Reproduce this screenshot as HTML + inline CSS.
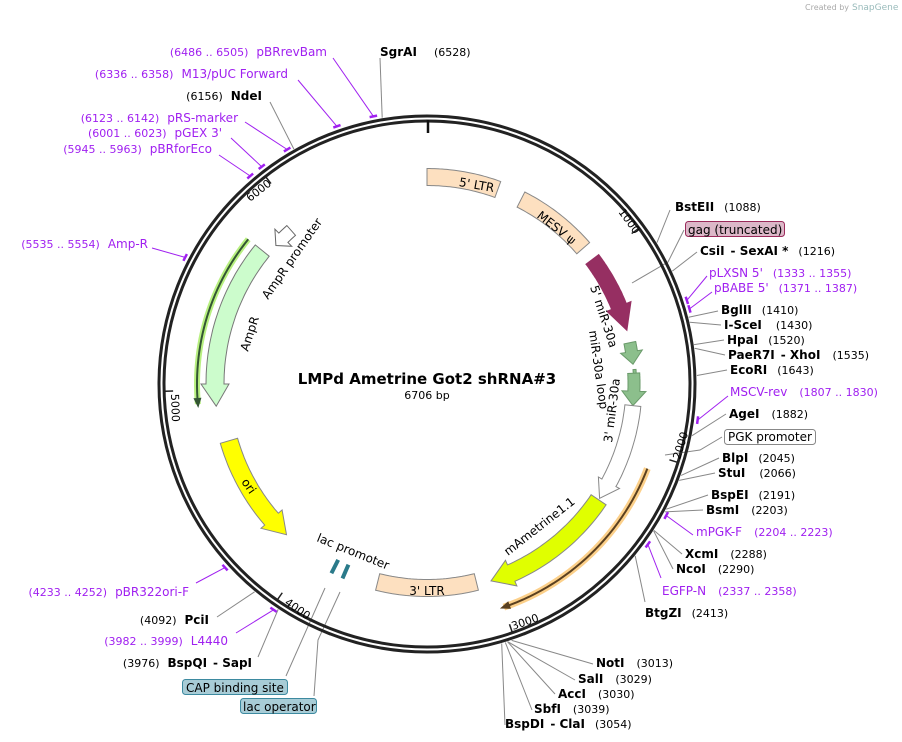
<!DOCTYPE html>
<html><head><meta charset="utf-8"><style>
html,body{margin:0;padding:0;background:#fff;width:902px;height:742px;overflow:hidden}
svg{display:block;font-family:"DejaVu Sans","Liberation Sans",sans-serif}
.b{font-weight:bold;font-size:12px;fill:#000}
.n{font-size:11px;fill:#000}
.p{font-size:12px;fill:#a020f0}
.pn{font-size:11px;fill:#a020f0}
.f{font-size:12px;fill:#000}
</style></head><body>
<svg id="s" width="902" height="742" viewBox="0 0 902 742">
<text x="805" y="10" font-size="8" fill="#aaa">Created by</text><text x="852" y="10" font-size="9" fill="#9bb">SnapGene</text>
<g id="leads" stroke="#888" stroke-width="1" fill="none"></g>
<g id="feat"></g>
<circle cx="427" cy="384" r="268" fill="none" stroke="#222" stroke-width="3"/>
<circle cx="427" cy="384" r="263" fill="none" stroke="#222" stroke-width="3"/>
<line x1="428" y1="120" x2="428" y2="133" stroke="#111" stroke-width="2.5"/>
<g id="ticks" stroke="#222" stroke-width="1.5"></g>
<g font-size="11" fill="#000">
<text transform="translate(618,212) rotate(54)">1000</text>
<text transform="translate(680,460) rotate(-73)">2000</text>
<text transform="translate(513,630) rotate(-19)">3000</text>
<text transform="translate(284,604) rotate(35)">4000</text>
<text transform="translate(171,394) rotate(88)">5000</text>
<text transform="translate(250,202) rotate(-38)">6000</text>
</g>
<text x="427" y="384" text-anchor="middle" font-weight="bold" font-size="15">LMPd Ametrine Got2 shRNA#3</text>
<text x="427" y="399" text-anchor="middle" font-size="11">6706 bp</text>
<g class="f">
<text transform="translate(476,189) rotate(10)" text-anchor="middle">5' LTR</text>
<text transform="translate(554,231) rotate(38)" text-anchor="middle">MESV ψ</text>
<text transform="translate(590,287) rotate(72)">5' miR-30a</text>
<text transform="translate(589,331) rotate(82)">miR-30a loop</text>
<text transform="translate(612,443) rotate(-83)">3' miR-30a</text>
<text transform="translate(268,300) rotate(-55)">AmpR promoter</text>
<text transform="translate(248,352) rotate(-72)">AmpR</text>
<text transform="translate(241,482) rotate(55)">ori</text>
<text transform="translate(316,541) rotate(22)">lac promoter</text>
<text x="427" y="595" text-anchor="middle">3' LTR</text>
<text transform="translate(508,556) rotate(-38)">mAmetrine1.1</text>
</g>
<text x="380" y="56" class="b">SgrAI</text><text x="434" y="56" class="n">(6528)</text>
<text x="327" y="56" text-anchor="end"><tspan class="pn">(6486 .. 6505)</tspan><tspan class="p" dx="8">pBRrevBam</tspan></text>
<text x="288" y="78" text-anchor="end"><tspan class="pn">(6336 .. 6358)</tspan><tspan class="p" dx="8">M13/pUC Forward</tspan></text>
<text x="262" y="100" text-anchor="end"><tspan class="n">(6156)</tspan><tspan class="b" dx="8">NdeI</tspan></text>
<text x="238" y="122" text-anchor="end"><tspan class="pn">(6123 .. 6142)</tspan><tspan class="p" dx="8">pRS-marker</tspan></text>
<text x="222" y="137" text-anchor="end"><tspan class="pn">(6001 .. 6023)</tspan><tspan class="p" dx="8">pGEX 3'</tspan></text>
<text x="212" y="153" text-anchor="end"><tspan class="pn">(5945 .. 5963)</tspan><tspan class="p" dx="8">pBRforEco</tspan></text>
<text x="148" y="248" text-anchor="end"><tspan class="pn">(5535 .. 5554)</tspan><tspan class="p" dx="8">Amp-R</tspan></text>
<text x="189" y="596" text-anchor="end"><tspan class="pn">(4233 .. 4252)</tspan><tspan class="p" dx="8">pBR322ori-F</tspan></text>
<text x="209" y="624" text-anchor="end"><tspan class="n">(4092)</tspan><tspan class="b" dx="8">PciI</tspan></text>
<text x="228" y="645" text-anchor="end"><tspan class="pn">(3982 .. 3999)</tspan><tspan class="p" dx="8">L4440</tspan></text>
<text x="252" y="667" text-anchor="end"><tspan class="n">(3976)</tspan><tspan class="b" dx="8">BspQI</tspan><tspan class="b" dx="6">- SapI</tspan></text>
<rect x="182.5" y="679.5" width="105" height="15" rx="3" fill="#a8ccd6" stroke="#3d8aa0"/>
<text x="186" y="692" font-size="12">CAP binding site</text>
<rect x="240.5" y="698.5" width="76" height="15" rx="3" fill="#a8ccd6" stroke="#3d8aa0"/>
<text x="243" y="711" font-size="12">lac operator</text>
<text x="675" y="211"><tspan class="b">BstEII</tspan><tspan class="n" dx="10">(1088)</tspan></text>
<rect x="685.5" y="221.5" width="99" height="15" rx="3" fill="#dcb8c8" stroke="#9a2a5a"/>
<text x="688" y="234" font-size="12">gag (truncated)</text>
<text x="700" y="255"><tspan class="b">CsiI</tspan><tspan class="b" dx="6">- SexAI *</tspan><tspan class="n" dx="10">(1216)</tspan></text>
<text x="709" y="277"><tspan class="p">pLXSN 5'</tspan><tspan class="pn" dx="10">(1333 .. 1355)</tspan></text>
<text x="714" y="292"><tspan class="p">pBABE 5'</tspan><tspan class="pn" dx="10">(1371 .. 1387)</tspan></text>
<text x="721" y="314"><tspan class="b">BglII</tspan><tspan class="n" dx="10">(1410)</tspan></text>
<text x="724" y="329"><tspan class="b">I-SceI</tspan><tspan class="n" dx="14">(1430)</tspan></text>
<text x="727" y="344"><tspan class="b">HpaI</tspan><tspan class="n" dx="10">(1520)</tspan></text>
<text x="728" y="359"><tspan class="b">PaeR7I</tspan><tspan class="b" dx="6">- XhoI</tspan><tspan class="n" dx="12">(1535)</tspan></text>
<text x="730" y="374"><tspan class="b">EcoRI</tspan><tspan class="n" dx="10">(1643)</tspan></text>
<text x="730" y="396"><tspan class="p">MSCV-rev</tspan><tspan class="pn" dx="12">(1807 .. 1830)</tspan></text>
<text x="729" y="418"><tspan class="b">AgeI</tspan><tspan class="n" dx="12">(1882)</tspan></text>
<rect x="724.5" y="429.5" width="91" height="15" rx="3" fill="#fff" stroke="#888"/>
<text x="728" y="441" font-size="12">PGK promoter</text>
<text x="722" y="462"><tspan class="b">BlpI</tspan><tspan class="n" dx="10">(2045)</tspan></text>
<text x="718" y="477"><tspan class="b">StuI</tspan><tspan class="n" dx="14">(2066)</tspan></text>
<text x="711" y="499"><tspan class="b">BspEI</tspan><tspan class="n" dx="10">(2191)</tspan></text>
<text x="706" y="514"><tspan class="b">BsmI</tspan><tspan class="n" dx="12">(2203)</tspan></text>
<text x="696" y="536"><tspan class="p">mPGK-F</tspan><tspan class="pn" dx="12">(2204 .. 2223)</tspan></text>
<text x="685" y="558"><tspan class="b">XcmI</tspan><tspan class="n" dx="12">(2288)</tspan></text>
<text x="676" y="573"><tspan class="b">NcoI</tspan><tspan class="n" dx="12">(2290)</tspan></text>
<text x="662" y="595"><tspan class="p">EGFP-N</tspan><tspan class="pn" dx="12">(2337 .. 2358)</tspan></text>
<text x="645" y="617"><tspan class="b">BtgZI</tspan><tspan class="n" dx="10">(2413)</tspan></text>
<text x="596" y="667"><tspan class="b">NotI</tspan><tspan class="n" dx="12">(3013)</tspan></text>
<text x="578" y="683"><tspan class="b">SalI</tspan><tspan class="n" dx="12">(3029)</tspan></text>
<text x="558" y="698"><tspan class="b">AccI</tspan><tspan class="n" dx="12">(3030)</tspan></text>
<text x="534" y="713"><tspan class="b">SbfI</tspan><tspan class="n" dx="12">(3039)</tspan></text>
<text x="505" y="728"><tspan class="b">BspDI</tspan><tspan class="b" dx="6">- ClaI</tspan><tspan class="n" dx="10">(3054)</tspan></text>
</svg>
<script>
var CX=427,CY=384,N=6706,NS="http://www.w3.org/2000/svg";
function P(a,r){var t=a*Math.PI/180;return [CX+r*Math.sin(t),CY-r*Math.cos(t)];}
function D(bp){return bp/N*360;}
function el(g,tag,at){var e=document.createElementNS(NS,tag);for(var k in at)e.setAttribute(k,at[k]);document.getElementById(g).appendChild(e);return e;}
function arcpts(a1,a2,r,n){var o=[];for(var i=0;i<=n;i++){o.push(P(a1+(a2-a1)*i/n,r));}return o;}
function band(a1,a2,r,w,head,hw,fill,stroke){
 var dir=a2>a1?1:-1, ab=head? a2-dir*head : a2;
 var out=arcpts(a1,ab,r+w/2,30), inn=arcpts(ab,a1,r-w/2,30), pts=out.slice();
 if(head){pts.push(P(ab,r+hw/2));pts.push(P(a2,r));pts.push(P(ab,r-hw/2));}
 pts=pts.concat(inn);
 el("feat","polygon",{points:pts.map(function(p){return p[0].toFixed(1)+","+p[1].toFixed(1)}).join(" "),fill:fill,stroke:stroke||"#777","stroke-width":1});
}
function line(g,pts,c,w){el(g,"polyline",{points:pts.map(function(p){return p[0]+","+p[1]}).join(" "),stroke:c||"#888","stroke-width":w||1,fill:"none"});}
band(0,20,207,17,0,0,"#fde0c0","#888");
band(27,49,207,17,0,0,"#fde0c0","#888");
band(53,75,207,16,7,26,"#962f62","#962f62");
band(78.5,84.5,207,12,3.5,22,"#8cbf8c","#6a9a6a");
band(86,90,208,3,0,0,"#8cbf8c","#6a9a6a");
band(87,96,207,12,4,24,"#8cbf8c","#6a9a6a");
band(96,123.5,207,16,5,24,"#fff","#888");
band(124,162,207,18,6,28,"#e0ff00","#888");
band(166,194,204,17,0,0,"#fde0c0","#888");
band(254,223,206,18,6,28,"#ffff00","#888");
band(309,264,212,18,6,28,"#ccfccc","#777");
band(318.5,312.5,205,13,3,24,"#fff","#666");
(function(){var a=arcpts(309,265,230,30);el("feat","polyline",{points:a.map(function(p){return p.join(",")}).join(" "),stroke:"#b8f080","stroke-width":6,fill:"none"});
el("feat","polyline",{points:a.map(function(p){return p.join(",")}).join(" "),stroke:"#335533","stroke-width":2,fill:"none"});
var h=P(264,230),h1=P(266.5,226),h2=P(266.5,234);el("feat","polygon",{points:[h1,h,h2].map(function(p){return p.join(",")}).join(" "),fill:"#335533"});
var b=arcpts(111,161,236,30);el("feat","polyline",{points:b.map(function(p){return p.join(",")}).join(" "),stroke:"#fcd08a","stroke-width":7,fill:"none"});
el("feat","polyline",{points:b.map(function(p){return p.join(",")}).join(" "),stroke:"#5a4020","stroke-width":2,fill:"none"});
h=P(162,236);h1=P(159.5,232);h2=P(159.5,240);el("feat","polygon",{points:[h1,h,h2].map(function(p){return p.join(",")}).join(" "),fill:"#5a4020"});
[203.5,206.8].forEach(function(a){var p1=P(a,197),p2=P(a,212);el("feat","line",{x1:p1[0],y1:p1[1],x2:p2[0],y2:p2[1],stroke:"#2a7a8a","stroke-width":4});});
})();
[1000,2000,3000,4000,5000,6000].forEach(function(b){var p1=P(D(b),254),p2=P(D(b),262);el("ticks","line",{x1:p1[0],y1:p1[1],x2:p2[0],y2:p2[1]});});
var E=[[6528,380,58],[6156,270,102],[1088,670,210],[1216,697,252],[1410,718,311],[1430,721,325],[1520,724,340],[1535,725,355],[1643,727,370],[1882,726,414],[2045,719,458],[2066,715,473],[2191,708,495],[2203,703,510],[2288,682,554],[2290,673,569],[2413,645,602],[3013,593,664],[3029,575,680],[3030,555,694],[3039,532,710],[3054,505,725],[4092,217,617],[3976,258,657]];
E.forEach(function(e){var p=P(D(e[0]),270);line("leads",[[p[0].toFixed(1),p[1].toFixed(1)],[e[1],e[2]]],"#888");});
line("leads",[[684,230],[668,262],[632,283]],"#888");
line("leads",[[722,437],[700,450],[665,455]],"#888");
line("leads",[[286,676],[325,588]],"#888");
line("leads",[[314,696],[318,640],[340,592]],"#888");
var Pr=[[6495,333,58],[6347,298,80],[6132,245,122],[6012,231,138],[5954,219,155],[5544,152,248],[1344,707,276],[1379,712,292],[1818,728,396],[2213,693,535],[2347,661,578],[4242,196,583],[3990,236,633]];
Pr.forEach(function(e){var a=D(e[0]),p=P(a,273),q1=P(a-0.8,273),q2=P(a+0.8,273);
 line("leads",[[p[0].toFixed(1),p[1].toFixed(1)],[e[1],e[2]]],"#a020f0");
 line("leads",[[q1[0].toFixed(1),q1[1].toFixed(1)],[q2[0].toFixed(1),q2[1].toFixed(1)]],"#a020f0",2.5);});
</script>
</body></html>
